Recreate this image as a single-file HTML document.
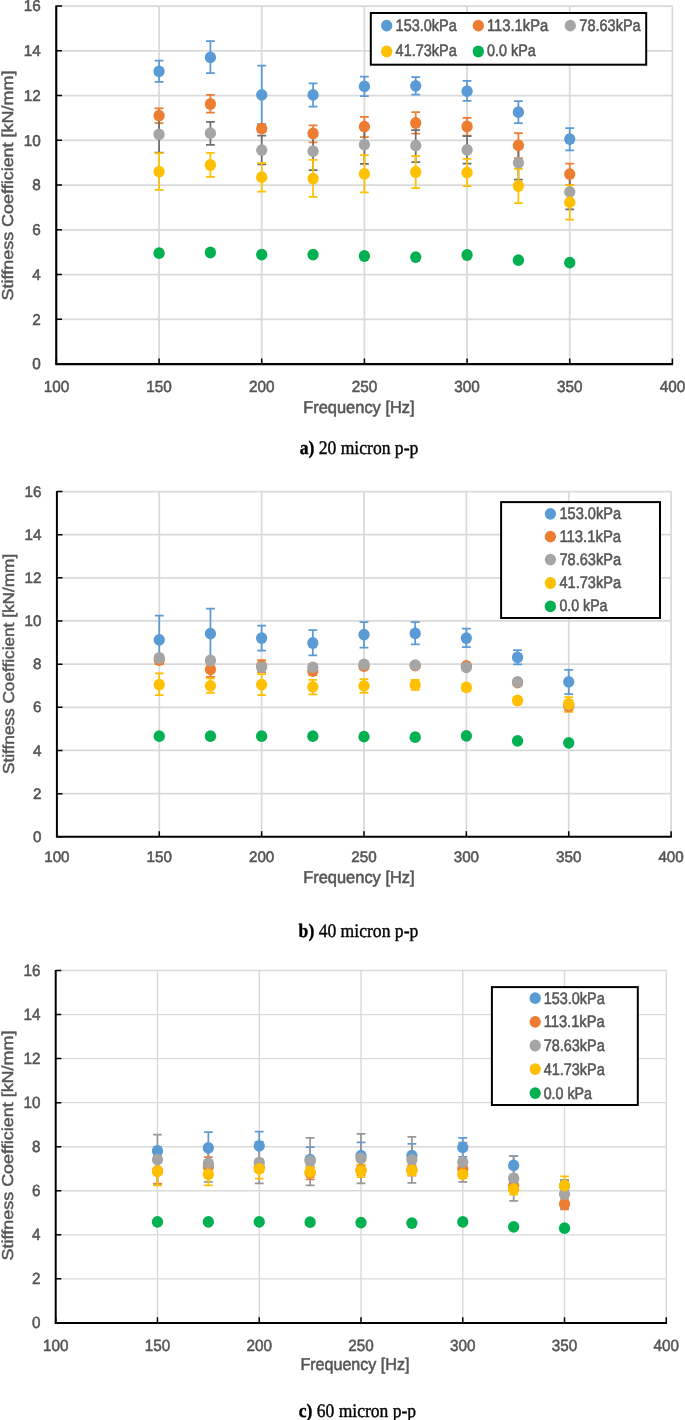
<!DOCTYPE html>
<html lang="en"><head><meta charset="utf-8"><title>Stiffness coefficient vs frequency</title>
<style>html,body{margin:0;padding:0;background:#fff}svg{display:block;will-change:transform;opacity:.999}text{text-rendering:geometricPrecision;font-family:"Liberation Sans",sans-serif;fill:#555555;stroke:#555555;stroke-width:.55px}.s{font-family:"Liberation Serif",serif;fill:#000;stroke:#000;stroke-width:.4px}</style></head><body>
<svg width="685" height="1420" viewBox="0 0 685 1420">
<rect width="685" height="1420" fill="#fff"/>
<g opacity=".999"><line x1="56.4" y1="319.35" x2="672.4" y2="319.35" stroke="#D9D9D9" stroke-width="1.75"/>
<line x1="56.4" y1="274.6" x2="672.4" y2="274.6" stroke="#D9D9D9" stroke-width="1.75"/>
<line x1="56.4" y1="229.85" x2="672.4" y2="229.85" stroke="#D9D9D9" stroke-width="1.75"/>
<line x1="56.4" y1="185.1" x2="672.4" y2="185.1" stroke="#D9D9D9" stroke-width="1.75"/>
<line x1="56.4" y1="140.35" x2="672.4" y2="140.35" stroke="#D9D9D9" stroke-width="1.75"/>
<line x1="56.4" y1="95.6" x2="672.4" y2="95.6" stroke="#D9D9D9" stroke-width="1.75"/>
<line x1="56.4" y1="50.85" x2="672.4" y2="50.85" stroke="#D9D9D9" stroke-width="1.75"/>
<line x1="56.4" y1="6.1" x2="672.4" y2="6.1" stroke="#D9D9D9" stroke-width="1.75"/>
<line x1="159.07" y1="6.1" x2="159.07" y2="364.1" stroke="#D9D9D9" stroke-width="1.75"/>
<line x1="261.73" y1="6.1" x2="261.73" y2="364.1" stroke="#D9D9D9" stroke-width="1.75"/>
<line x1="364.4" y1="6.1" x2="364.4" y2="364.1" stroke="#D9D9D9" stroke-width="1.75"/>
<line x1="467.07" y1="6.1" x2="467.07" y2="364.1" stroke="#D9D9D9" stroke-width="1.75"/>
<line x1="569.73" y1="6.1" x2="569.73" y2="364.1" stroke="#D9D9D9" stroke-width="1.75"/>
<line x1="672.4" y1="6.1" x2="672.4" y2="364.1" stroke="#D9D9D9" stroke-width="1.75"/>
<path d="M56.25 5.5V364.1H673.1" fill="none" stroke="#000" stroke-width="2.15"/>
<path d="M56.4 364.1h5.6M56.4 319.35h5.6M56.4 274.6h5.6M56.4 229.85h5.6M56.4 185.1h5.6M56.4 140.35h5.6M56.4 95.6h5.6M56.4 50.85h5.6M56.4 6.1h5.6M56.4 364.1v-5.6M159.07 364.1v-5.6M261.73 364.1v-5.6M364.4 364.1v-5.6M467.07 364.1v-5.6M569.73 364.1v-5.6M672.4 364.1v-5.6" fill="none" stroke="#000" stroke-width="1.5"/>
<text transform="translate(40.8 369.45) scale(0.98 1)" font-size="15.6" text-anchor="end">0</text>
<text transform="translate(40.8 324.7) scale(0.98 1)" font-size="15.6" text-anchor="end">2</text>
<text transform="translate(40.8 279.95) scale(0.98 1)" font-size="15.6" text-anchor="end">4</text>
<text transform="translate(40.8 235.2) scale(0.98 1)" font-size="15.6" text-anchor="end">6</text>
<text transform="translate(40.8 190.45) scale(0.98 1)" font-size="15.6" text-anchor="end">8</text>
<text transform="translate(40.8 145.7) scale(0.98 1)" font-size="15.6" text-anchor="end">10</text>
<text transform="translate(40.8 100.95) scale(0.98 1)" font-size="15.6" text-anchor="end">12</text>
<text transform="translate(40.8 56.2) scale(0.98 1)" font-size="15.6" text-anchor="end">14</text>
<text transform="translate(40.8 11.45) scale(0.98 1)" font-size="15.6" text-anchor="end">16</text>
<text transform="translate(56.4 392) scale(0.95 1)" font-size="16.1" text-anchor="middle">100</text>
<text transform="translate(159.07 392) scale(0.95 1)" font-size="16.1" text-anchor="middle">150</text>
<text transform="translate(261.73 392) scale(0.95 1)" font-size="16.1" text-anchor="middle">200</text>
<text transform="translate(364.4 392) scale(0.95 1)" font-size="16.1" text-anchor="middle">250</text>
<text transform="translate(467.07 392) scale(0.95 1)" font-size="16.1" text-anchor="middle">300</text>
<text transform="translate(569.73 392) scale(0.95 1)" font-size="16.1" text-anchor="middle">350</text>
<text transform="translate(672.4 392) scale(0.95 1)" font-size="16.1" text-anchor="middle">400</text>
<text x="303.2" y="413.2" font-size="17.0" textLength="111.4" lengthAdjust="spacingAndGlyphs">Frequency [Hz]</text>
<text style="stroke-width:.45px" transform="translate(13 300.4) rotate(-90)" font-size="15.8" textLength="229.8" lengthAdjust="spacingAndGlyphs">Stiffness Coefficient [kN/mm]</text>
<text class="s" x="299.7" y="454.1" font-size="19.2" textLength="118.6" lengthAdjust="spacingAndGlyphs" xml:space="preserve"><tspan font-weight="bold">a)</tspan> 20 micron p-p</text>
<path d="M159.07 60.6V81.9M154.67 60.6h8.8M154.67 81.9h8.8M210.4 41V73.2M206 41h8.8M206 73.2h8.8M261.73 65.7V124.1M257.33 65.7h8.8M257.33 124.1h8.8M313.07 83.3V106.6M308.67 83.3h8.8M308.67 106.6h8.8M364.4 76.7V96.1M360 76.7h8.8M360 96.1h8.8M415.73 77V94.7M411.33 77h8.8M411.33 94.7h8.8M467.07 80.9V100.8M462.67 80.9h8.8M462.67 100.8h8.8M518.4 101.2V123.2M514 101.2h8.8M514 123.2h8.8M569.73 128.1V150.3M565.33 128.1h8.8M565.33 150.3h8.8" fill="none" stroke="#5B9BD5" stroke-width="1.75"/>
<path d="M159.07 108.3V123M154.67 108.3h8.8M154.67 123h8.8M210.4 94.9V112.7M206 94.9h8.8M206 112.7h8.8M261.73 125V132M257.33 125h8.8M257.33 132h8.8M313.07 125.3V142.4M308.67 125.3h8.8M308.67 142.4h8.8M364.4 116.9V137M360 116.9h8.8M360 137h8.8M415.73 112V133.5M411.33 112h8.8M411.33 133.5h8.8M467.07 117.8V135.6M462.67 117.8h8.8M462.67 135.6h8.8M518.4 133V158M514 133h8.8M514 158h8.8M569.73 163.6V185.1M565.33 163.6h8.8M565.33 185.1h8.8" fill="none" stroke="#ED7D31" stroke-width="1.75"/>
<path d="M159.07 116.2V152.6M154.67 116.2h8.8M154.67 152.6h8.8M210.4 121.8V144.9M206 121.8h8.8M206 144.9h8.8M261.73 135.6V164.3M257.33 135.6h8.8M257.33 164.3h8.8M313.07 132.2V170.2M308.67 132.2h8.8M308.67 170.2h8.8M364.4 125.6V163.8M360 125.6h8.8M360 163.8h8.8M415.73 130V162.2M411.33 130h8.8M411.33 162.2h8.8M467.07 136V163.6M462.67 136h8.8M462.67 163.6h8.8M518.4 146.1V179.7M514 146.1h8.8M514 179.7h8.8M569.73 174.4V209.4M565.33 174.4h8.8M565.33 209.4h8.8" fill="none" stroke="#6e6e6e" stroke-width="1.75"/>
<path d="M159.07 153.1V189.8M154.67 153.1h8.8M154.67 189.8h8.8M210.4 152.9V176.9M206 152.9h8.8M206 176.9h8.8M261.73 163.1V191.6M257.33 163.1h8.8M257.33 191.6h8.8M313.07 159.9V196.8M308.67 159.9h8.8M308.67 196.8h8.8M364.4 155.2V192.3M360 155.2h8.8M360 192.3h8.8M415.73 156.1V188.1M411.33 156.1h8.8M411.33 188.1h8.8M467.07 158.9V186M462.67 158.9h8.8M462.67 186h8.8M518.4 168.8V203.1M514 168.8h8.8M514 203.1h8.8M569.73 185.1V219.7M565.33 185.1h8.8M565.33 219.7h8.8" fill="none" stroke="#FFC000" stroke-width="1.75"/>
<g fill="#5B9BD5"><ellipse cx="159.07" cy="71.3" rx="5.65" ry="5.9"/><ellipse cx="210.4" cy="57.3" rx="5.65" ry="5.9"/><ellipse cx="261.73" cy="94.9" rx="5.65" ry="5.9"/><ellipse cx="313.07" cy="94.9" rx="5.65" ry="5.9"/><ellipse cx="364.4" cy="86.3" rx="5.65" ry="5.9"/><ellipse cx="415.73" cy="85.8" rx="5.65" ry="5.9"/><ellipse cx="467.07" cy="91.2" rx="5.65" ry="5.9"/><ellipse cx="518.4" cy="112.2" rx="5.65" ry="5.9"/><ellipse cx="569.73" cy="139.1" rx="5.65" ry="5.9"/></g>
<g fill="#ED7D31"><ellipse cx="159.07" cy="115.7" rx="5.65" ry="5.9"/><ellipse cx="210.4" cy="104" rx="5.65" ry="5.9"/><ellipse cx="261.73" cy="128.6" rx="5.65" ry="5.9"/><ellipse cx="313.07" cy="133.5" rx="5.65" ry="5.9"/><ellipse cx="364.4" cy="126.7" rx="5.65" ry="5.9"/><ellipse cx="415.73" cy="123" rx="5.65" ry="5.9"/><ellipse cx="467.07" cy="126.5" rx="5.65" ry="5.9"/><ellipse cx="518.4" cy="145.4" rx="5.65" ry="5.9"/><ellipse cx="569.73" cy="174.1" rx="5.65" ry="5.9"/></g>
<g fill="#A5A5A5"><ellipse cx="159.07" cy="134.4" rx="5.65" ry="5.9"/><ellipse cx="210.4" cy="133.2" rx="5.65" ry="5.9"/><ellipse cx="261.73" cy="150.1" rx="5.65" ry="5.9"/><ellipse cx="313.07" cy="151.2" rx="5.65" ry="5.9"/><ellipse cx="364.4" cy="144.7" rx="5.65" ry="5.9"/><ellipse cx="415.73" cy="145.6" rx="5.65" ry="5.9"/><ellipse cx="467.07" cy="149.8" rx="5.65" ry="5.9"/><ellipse cx="518.4" cy="162.9" rx="5.65" ry="5.9"/><ellipse cx="569.73" cy="191.9" rx="5.65" ry="5.9"/></g>
<g fill="#FFC000"><ellipse cx="159.07" cy="171.6" rx="5.65" ry="5.9"/><ellipse cx="210.4" cy="165" rx="5.65" ry="5.9"/><ellipse cx="261.73" cy="177.2" rx="5.65" ry="5.9"/><ellipse cx="313.07" cy="178.6" rx="5.65" ry="5.9"/><ellipse cx="364.4" cy="173.9" rx="5.65" ry="5.9"/><ellipse cx="415.73" cy="172" rx="5.65" ry="5.9"/><ellipse cx="467.07" cy="172.7" rx="5.65" ry="5.9"/><ellipse cx="518.4" cy="186" rx="5.65" ry="5.9"/><ellipse cx="569.73" cy="202.2" rx="5.65" ry="5.9"/></g>
<g fill="#00B050"><ellipse cx="159.07" cy="253.2" rx="5.65" ry="5.9"/><ellipse cx="210.4" cy="252.5" rx="5.65" ry="5.9"/><ellipse cx="261.73" cy="254.6" rx="5.65" ry="5.9"/><ellipse cx="313.07" cy="254.6" rx="5.65" ry="5.9"/><ellipse cx="364.4" cy="256" rx="5.65" ry="5.9"/><ellipse cx="415.73" cy="257.1" rx="5.65" ry="5.9"/><ellipse cx="467.07" cy="255" rx="5.65" ry="5.9"/><ellipse cx="518.4" cy="260.2" rx="5.65" ry="5.9"/><ellipse cx="569.73" cy="262.7" rx="5.65" ry="5.9"/></g>
<rect x="370.8" y="13" width="275.4" height="51.7" fill="#fff" stroke="#000" stroke-width="2"/>
<ellipse cx="386.7" cy="25.6" rx="5.65" ry="5.9" fill="#5B9BD5"/>
<text x="395.6" y="30.5" font-size="16.6" textLength="61.2" lengthAdjust="spacingAndGlyphs">153.0kPa</text>
<ellipse cx="478.3" cy="25.6" rx="5.65" ry="5.9" fill="#ED7D31"/>
<text x="487" y="30.5" font-size="16.6" textLength="61.2" lengthAdjust="spacingAndGlyphs">113.1kPa</text>
<ellipse cx="570.3" cy="25.6" rx="5.65" ry="5.9" fill="#A5A5A5"/>
<text x="579.3" y="30.5" font-size="16.6" textLength="61.4" lengthAdjust="spacingAndGlyphs">78.63kPa</text>
<ellipse cx="386.7" cy="51.5" rx="5.65" ry="5.9" fill="#FFC000"/>
<text x="395.6" y="56.4" font-size="16.6" textLength="61.2" lengthAdjust="spacingAndGlyphs">41.73kPa</text>
<ellipse cx="478.3" cy="51.5" rx="5.65" ry="5.9" fill="#00B050"/>
<text x="487" y="56.4" font-size="16.6" textLength="48.8" lengthAdjust="spacingAndGlyphs">0.0 kPa</text></g>
<g opacity=".999"><line x1="56.9" y1="793.64" x2="671.1" y2="793.64" stroke="#D9D9D9" stroke-width="1.75"/>
<line x1="56.9" y1="750.47" x2="671.1" y2="750.47" stroke="#D9D9D9" stroke-width="1.75"/>
<line x1="56.9" y1="707.31" x2="671.1" y2="707.31" stroke="#D9D9D9" stroke-width="1.75"/>
<line x1="56.9" y1="664.15" x2="671.1" y2="664.15" stroke="#D9D9D9" stroke-width="1.75"/>
<line x1="56.9" y1="620.99" x2="671.1" y2="620.99" stroke="#D9D9D9" stroke-width="1.75"/>
<line x1="56.9" y1="577.83" x2="671.1" y2="577.83" stroke="#D9D9D9" stroke-width="1.75"/>
<line x1="56.9" y1="534.66" x2="671.1" y2="534.66" stroke="#D9D9D9" stroke-width="1.75"/>
<line x1="56.9" y1="491.5" x2="671.1" y2="491.5" stroke="#D9D9D9" stroke-width="1.75"/>
<line x1="159.27" y1="491.5" x2="159.27" y2="836.8" stroke="#D9D9D9" stroke-width="1.75"/>
<line x1="261.63" y1="491.5" x2="261.63" y2="836.8" stroke="#D9D9D9" stroke-width="1.75"/>
<line x1="364" y1="491.5" x2="364" y2="836.8" stroke="#D9D9D9" stroke-width="1.75"/>
<line x1="466.37" y1="491.5" x2="466.37" y2="836.8" stroke="#D9D9D9" stroke-width="1.75"/>
<line x1="568.73" y1="491.5" x2="568.73" y2="836.8" stroke="#D9D9D9" stroke-width="1.75"/>
<line x1="671.1" y1="491.5" x2="671.1" y2="836.8" stroke="#D9D9D9" stroke-width="1.75"/>
<path d="M56.9 490.9V836.8H671.8" fill="none" stroke="#000" stroke-width="2.0"/>
<path d="M56.9 836.8h5.6M56.9 793.64h5.6M56.9 750.47h5.6M56.9 707.31h5.6M56.9 664.15h5.6M56.9 620.99h5.6M56.9 577.83h5.6M56.9 534.66h5.6M56.9 491.5h5.6M56.9 836.8v-5.6M159.27 836.8v-5.6M261.63 836.8v-5.6M364 836.8v-5.6M466.37 836.8v-5.6M568.73 836.8v-5.6M671.1 836.8v-5.6" fill="none" stroke="#000" stroke-width="1.5"/>
<text transform="translate(41.4 841.9) scale(1 1)" font-size="15.2" text-anchor="end">0</text>
<text transform="translate(41.4 798.74) scale(1 1)" font-size="15.2" text-anchor="end">2</text>
<text transform="translate(41.4 755.58) scale(1 1)" font-size="15.2" text-anchor="end">4</text>
<text transform="translate(41.4 712.42) scale(1 1)" font-size="15.2" text-anchor="end">6</text>
<text transform="translate(41.4 669.25) scale(1 1)" font-size="15.2" text-anchor="end">8</text>
<text transform="translate(41.4 626.09) scale(1 1)" font-size="15.2" text-anchor="end">10</text>
<text transform="translate(41.4 582.93) scale(1 1)" font-size="15.2" text-anchor="end">12</text>
<text transform="translate(41.4 539.77) scale(1 1)" font-size="15.2" text-anchor="end">14</text>
<text transform="translate(41.4 496.6) scale(1 1)" font-size="15.2" text-anchor="end">16</text>
<text transform="translate(56.9 862.4) scale(1 1)" font-size="15.2" text-anchor="middle">100</text>
<text transform="translate(159.27 862.4) scale(1 1)" font-size="15.2" text-anchor="middle">150</text>
<text transform="translate(261.63 862.4) scale(1 1)" font-size="15.2" text-anchor="middle">200</text>
<text transform="translate(364 862.4) scale(1 1)" font-size="15.2" text-anchor="middle">250</text>
<text transform="translate(466.37 862.4) scale(1 1)" font-size="15.2" text-anchor="middle">300</text>
<text transform="translate(568.73 862.4) scale(1 1)" font-size="15.2" text-anchor="middle">350</text>
<text transform="translate(671.1 862.4) scale(1 1)" font-size="15.2" text-anchor="middle">400</text>
<text x="303.2" y="882.9" font-size="17.0" textLength="111.4" lengthAdjust="spacingAndGlyphs">Frequency [Hz]</text>
<text style="stroke-width:.45px" transform="translate(13.8 774) rotate(-90)" font-size="15.8" textLength="220.2" lengthAdjust="spacingAndGlyphs">Stiffness Coefficient [kN/mm]</text>
<text class="s" x="298.6" y="936.9" font-size="19.2" textLength="119.7" lengthAdjust="spacingAndGlyphs" xml:space="preserve"><tspan font-weight="bold">b)</tspan> 40 micron p-p</text>
<path d="M159.27 615.7V663.9M154.87 615.7h8.8M154.87 663.9h8.8M210.45 608.7V658.7M206.05 608.7h8.8M206.05 658.7h8.8M261.63 625.7V650.7M257.23 625.7h8.8M257.23 650.7h8.8M312.82 630.2V655.4M308.42 630.2h8.8M308.42 655.4h8.8M364 622V647.5M359.6 622h8.8M359.6 647.5h8.8M415.18 622.2V644.4M410.78 622.2h8.8M410.78 644.4h8.8M466.37 628.5V647.2M461.97 628.5h8.8M461.97 647.2h8.8M517.55 650V664.3M513.15 650h8.8M513.15 664.3h8.8M568.73 669.9V694.2M564.33 669.9h8.8M564.33 694.2h8.8" fill="none" stroke="#5B9BD5" stroke-width="1.75"/>
<path d="M159.27 656V664M154.87 656h8.8M154.87 664h8.8M210.45 661.9V676.9M206.05 661.9h8.8M206.05 676.9h8.8M261.63 660.1V672.2M257.23 660.1h8.8M257.23 672.2h8.8M312.82 667V675M308.42 667h8.8M308.42 675h8.8M364 663V669M359.6 663h8.8M359.6 669h8.8M415.18 663V668M410.78 663h8.8M410.78 668h8.8M466.37 663V669M461.97 663h8.8M461.97 669h8.8M517.55 680V685M513.15 680h8.8M513.15 685h8.8M568.73 700.7V711.5M564.33 700.7h8.8M564.33 711.5h8.8" fill="none" stroke="#ED7D31" stroke-width="1.75"/>
<path d="M159.27 655V661M154.87 655h8.8M154.87 661h8.8M210.45 658V663M206.05 658h8.8M206.05 663h8.8M261.63 664V670M257.23 664h8.8M257.23 670h8.8M312.82 664V670M308.42 664h8.8M308.42 670h8.8M364 662V667M359.6 662h8.8M359.6 667h8.8M415.18 663V668M410.78 663h8.8M410.78 668h8.8M466.37 664V670M461.97 664h8.8M461.97 670h8.8M517.55 680V684M513.15 680h8.8M513.15 684h8.8M568.73 702V707M564.33 702h8.8M564.33 707h8.8" fill="none" stroke="#8a8a8a" stroke-width="1.75"/>
<path d="M159.27 673.4V695.1M154.87 673.4h8.8M154.87 695.1h8.8M210.45 678.3V692.8M206.05 678.3h8.8M206.05 692.8h8.8M261.63 674.1V695.1M257.23 674.1h8.8M257.23 695.1h8.8M312.82 679.9V694.4M308.42 679.9h8.8M308.42 694.4h8.8M364 679.2V692.8M359.6 679.2h8.8M359.6 692.8h8.8M415.18 679.8V689.8M410.78 679.8h8.8M410.78 689.8h8.8M466.37 684V691M461.97 684h8.8M461.97 691h8.8M517.55 697V704M513.15 697h8.8M513.15 704h8.8M568.73 697V711.5M564.33 697h8.8M564.33 711.5h8.8" fill="none" stroke="#FFC000" stroke-width="1.75"/>
<g fill="#5B9BD5"><ellipse cx="159.27" cy="639.8" rx="5.65" ry="5.9"/><ellipse cx="210.45" cy="633.7" rx="5.65" ry="5.9"/><ellipse cx="261.63" cy="638.1" rx="5.65" ry="5.9"/><ellipse cx="312.82" cy="643" rx="5.65" ry="5.9"/><ellipse cx="364" cy="634.6" rx="5.65" ry="5.9"/><ellipse cx="415.18" cy="633.4" rx="5.65" ry="5.9"/><ellipse cx="466.37" cy="638.1" rx="5.65" ry="5.9"/><ellipse cx="517.55" cy="657.3" rx="5.65" ry="5.9"/><ellipse cx="568.73" cy="681.8" rx="5.65" ry="5.9"/></g>
<g fill="#ED7D31"><ellipse cx="159.27" cy="660.1" rx="5.65" ry="5.9"/><ellipse cx="210.45" cy="669.4" rx="5.65" ry="5.9"/><ellipse cx="261.63" cy="665.9" rx="5.65" ry="5.9"/><ellipse cx="312.82" cy="671.1" rx="5.65" ry="5.9"/><ellipse cx="364" cy="666.2" rx="5.65" ry="5.9"/><ellipse cx="415.18" cy="665.6" rx="5.65" ry="5.9"/><ellipse cx="466.37" cy="665.9" rx="5.65" ry="5.9"/><ellipse cx="517.55" cy="682.6" rx="5.65" ry="5.9"/><ellipse cx="568.73" cy="706.1" rx="5.65" ry="5.9"/></g>
<g fill="#A5A5A5"><ellipse cx="159.27" cy="658" rx="5.65" ry="5.9"/><ellipse cx="210.45" cy="660.5" rx="5.65" ry="5.9"/><ellipse cx="261.63" cy="667.1" rx="5.65" ry="5.9"/><ellipse cx="312.82" cy="667.3" rx="5.65" ry="5.9"/><ellipse cx="364" cy="664.3" rx="5.65" ry="5.9"/><ellipse cx="415.18" cy="665.2" rx="5.65" ry="5.9"/><ellipse cx="466.37" cy="667.3" rx="5.65" ry="5.9"/><ellipse cx="517.55" cy="682" rx="5.65" ry="5.9"/><ellipse cx="568.73" cy="704.5" rx="5.65" ry="5.9"/></g>
<g fill="#FFC000"><ellipse cx="159.27" cy="684.6" rx="5.65" ry="5.9"/><ellipse cx="210.45" cy="685.8" rx="5.65" ry="5.9"/><ellipse cx="261.63" cy="684.6" rx="5.65" ry="5.9"/><ellipse cx="312.82" cy="686.9" rx="5.65" ry="5.9"/><ellipse cx="364" cy="685.8" rx="5.65" ry="5.9"/><ellipse cx="415.18" cy="684.8" rx="5.65" ry="5.9"/><ellipse cx="466.37" cy="687.4" rx="5.65" ry="5.9"/><ellipse cx="517.55" cy="700.5" rx="5.65" ry="5.9"/><ellipse cx="568.73" cy="704" rx="5.65" ry="5.9"/></g>
<g fill="#00B050"><ellipse cx="159.27" cy="736.2" rx="5.65" ry="5.9"/><ellipse cx="210.45" cy="736.2" rx="5.65" ry="5.9"/><ellipse cx="261.63" cy="736.2" rx="5.65" ry="5.9"/><ellipse cx="312.82" cy="736.2" rx="5.65" ry="5.9"/><ellipse cx="364" cy="736.7" rx="5.65" ry="5.9"/><ellipse cx="415.18" cy="737.2" rx="5.65" ry="5.9"/><ellipse cx="466.37" cy="735.8" rx="5.65" ry="5.9"/><ellipse cx="517.55" cy="740.9" rx="5.65" ry="5.9"/><ellipse cx="568.73" cy="742.8" rx="5.65" ry="5.9"/></g>
<rect x="501.1" y="502.1" width="158.9" height="115.9" fill="#fff" stroke="#000" stroke-width="2"/>
<ellipse cx="550.4" cy="513.8" rx="5.65" ry="5.9" fill="#5B9BD5"/>
<text x="559.4" y="518.7" font-size="16.6" textLength="61.7" lengthAdjust="spacingAndGlyphs">153.0kPa</text>
<ellipse cx="550.4" cy="536.6" rx="5.65" ry="5.9" fill="#ED7D31"/>
<text x="559.4" y="541.5" font-size="16.6" textLength="61.7" lengthAdjust="spacingAndGlyphs">113.1kPa</text>
<ellipse cx="550.4" cy="559.6" rx="5.65" ry="5.9" fill="#A5A5A5"/>
<text x="559.4" y="564.5" font-size="16.6" textLength="61.7" lengthAdjust="spacingAndGlyphs">78.63kPa</text>
<ellipse cx="550.4" cy="583" rx="5.65" ry="5.9" fill="#FFC000"/>
<text x="559.4" y="587.9" font-size="16.6" textLength="61.7" lengthAdjust="spacingAndGlyphs">41.73kPa</text>
<ellipse cx="550.4" cy="606.4" rx="5.65" ry="5.9" fill="#00B050"/>
<text x="559.4" y="611.3" font-size="16.6" textLength="48.1" lengthAdjust="spacingAndGlyphs">0.0 kPa</text></g>
<g opacity=".999"><line x1="55.7" y1="1278.85" x2="666.3" y2="1278.85" stroke="#D9D9D9" stroke-width="1.35"/>
<line x1="55.7" y1="1234.8" x2="666.3" y2="1234.8" stroke="#D9D9D9" stroke-width="1.35"/>
<line x1="55.7" y1="1190.75" x2="666.3" y2="1190.75" stroke="#D9D9D9" stroke-width="1.35"/>
<line x1="55.7" y1="1146.7" x2="666.3" y2="1146.7" stroke="#D9D9D9" stroke-width="1.35"/>
<line x1="55.7" y1="1102.65" x2="666.3" y2="1102.65" stroke="#D9D9D9" stroke-width="1.35"/>
<line x1="55.7" y1="1058.6" x2="666.3" y2="1058.6" stroke="#D9D9D9" stroke-width="1.35"/>
<line x1="55.7" y1="1014.55" x2="666.3" y2="1014.55" stroke="#D9D9D9" stroke-width="1.35"/>
<line x1="55.7" y1="970.5" x2="666.3" y2="970.5" stroke="#D9D9D9" stroke-width="1.35"/>
<line x1="157.47" y1="970.5" x2="157.47" y2="1322.9" stroke="#D9D9D9" stroke-width="1.35"/>
<line x1="259.23" y1="970.5" x2="259.23" y2="1322.9" stroke="#D9D9D9" stroke-width="1.35"/>
<line x1="361" y1="970.5" x2="361" y2="1322.9" stroke="#D9D9D9" stroke-width="1.35"/>
<line x1="462.77" y1="970.5" x2="462.77" y2="1322.9" stroke="#D9D9D9" stroke-width="1.35"/>
<line x1="564.53" y1="970.5" x2="564.53" y2="1322.9" stroke="#D9D9D9" stroke-width="1.35"/>
<line x1="666.3" y1="970.5" x2="666.3" y2="1322.9" stroke="#D9D9D9" stroke-width="1.35"/>
<path d="M55.7 969.9V1322.9H667" fill="none" stroke="#000" stroke-width="2.0"/>
<path d="M55.7 1322.9h5.6M55.7 1278.85h5.6M55.7 1234.8h5.6M55.7 1190.75h5.6M55.7 1146.7h5.6M55.7 1102.65h5.6M55.7 1058.6h5.6M55.7 1014.55h5.6M55.7 970.5h5.6M55.7 1322.9v-5.6M157.47 1322.9v-5.6M259.23 1322.9v-5.6M361 1322.9v-5.6M462.77 1322.9v-5.6M564.53 1322.9v-5.6M666.3 1322.9v-5.6" fill="none" stroke="#000" stroke-width="1.5"/>
<text transform="translate(40.5 1328.36) scale(0.94 1)" font-size="16.2" text-anchor="end">0</text>
<text transform="translate(40.5 1284.31) scale(0.94 1)" font-size="16.2" text-anchor="end">2</text>
<text transform="translate(40.5 1240.26) scale(0.94 1)" font-size="16.2" text-anchor="end">4</text>
<text transform="translate(40.5 1196.21) scale(0.94 1)" font-size="16.2" text-anchor="end">6</text>
<text transform="translate(40.5 1152.16) scale(0.94 1)" font-size="16.2" text-anchor="end">8</text>
<text transform="translate(40.5 1108.11) scale(0.94 1)" font-size="16.2" text-anchor="end">10</text>
<text transform="translate(40.5 1064.06) scale(0.94 1)" font-size="16.2" text-anchor="end">12</text>
<text transform="translate(40.5 1020.01) scale(0.94 1)" font-size="16.2" text-anchor="end">14</text>
<text transform="translate(40.5 975.96) scale(0.94 1)" font-size="16.2" text-anchor="end">16</text>
<text transform="translate(55.7 1350.9) scale(0.94 1)" font-size="16.2" text-anchor="middle">100</text>
<text transform="translate(157.47 1350.9) scale(0.94 1)" font-size="16.2" text-anchor="middle">150</text>
<text transform="translate(259.23 1350.9) scale(0.94 1)" font-size="16.2" text-anchor="middle">200</text>
<text transform="translate(361 1350.9) scale(0.94 1)" font-size="16.2" text-anchor="middle">250</text>
<text transform="translate(462.77 1350.9) scale(0.94 1)" font-size="16.2" text-anchor="middle">300</text>
<text transform="translate(564.53 1350.9) scale(0.94 1)" font-size="16.2" text-anchor="middle">350</text>
<text transform="translate(666.3 1350.9) scale(0.94 1)" font-size="16.2" text-anchor="middle">400</text>
<text x="300.4" y="1369.7" font-size="17.0" textLength="109" lengthAdjust="spacingAndGlyphs">Frequency [Hz]</text>
<text style="stroke-width:.45px" transform="translate(13 1260.4) rotate(-90)" font-size="15.8" textLength="229.9" lengthAdjust="spacingAndGlyphs">Stiffness Coefficient [kN/mm]</text>
<text class="s" x="298.8" y="1417.3" font-size="19.2" textLength="117.2" lengthAdjust="spacingAndGlyphs" xml:space="preserve"><tspan font-weight="bold">c)</tspan> 60 micron p-p</text>
<path d="M157.47 1147V1155M153.07 1147h8.8M153.07 1155h8.8M208.35 1132.2V1163.6M203.95 1132.2h8.8M203.95 1163.6h8.8M259.23 1131.5V1160.1M254.83 1131.5h8.8M254.83 1160.1h8.8M310.12 1147.2V1172M305.72 1147.2h8.8M305.72 1172h8.8M361 1142.3V1169M356.6 1142.3h8.8M356.6 1169h8.8M411.88 1143.9V1167.3M407.48 1143.9h8.8M407.48 1167.3h8.8M462.77 1137.8V1156.8M458.37 1137.8h8.8M458.37 1156.8h8.8M513.65 1156.2V1174.6M509.25 1156.2h8.8M509.25 1174.6h8.8M564.53 1181V1191M560.13 1181h8.8M560.13 1191h8.8" fill="none" stroke="#5B9BD5" stroke-width="1.75"/>
<path d="M157.47 1158.4V1183.6M153.07 1158.4h8.8M153.07 1183.6h8.8M208.35 1157.2V1176M203.95 1157.2h8.8M203.95 1176h8.8M259.23 1163V1172M254.83 1163h8.8M254.83 1172h8.8M310.12 1166.4V1179.4M305.72 1166.4h8.8M305.72 1179.4h8.8M361 1165V1175M356.6 1165h8.8M356.6 1175h8.8M411.88 1165V1175.5M407.48 1165h8.8M407.48 1175.5h8.8M462.77 1165V1173M458.37 1165h8.8M458.37 1173h8.8M513.65 1182V1190M509.25 1182h8.8M509.25 1190h8.8M564.53 1198.5V1209.3M560.13 1198.5h8.8M560.13 1209.3h8.8" fill="none" stroke="#ED7D31" stroke-width="1.75"/>
<path d="M157.47 1134.6V1184.6M153.07 1134.6h8.8M153.07 1184.6h8.8M208.35 1145.2V1181.8M203.95 1145.2h8.8M203.95 1181.8h8.8M259.23 1141.8V1183.4M254.83 1141.8h8.8M254.83 1183.4h8.8M310.12 1137.8V1185.3M305.72 1137.8h8.8M305.72 1185.3h8.8M361 1133.9V1183.4M356.6 1133.9h8.8M356.6 1183.4h8.8M411.88 1136.9V1182.9M407.48 1136.9h8.8M407.48 1182.9h8.8M462.77 1142.5V1181.8M458.37 1142.5h8.8M458.37 1181.8h8.8M513.65 1156.1V1200.9M509.25 1156.1h8.8M509.25 1200.9h8.8M564.53 1179.9V1208.3M560.13 1179.9h8.8M560.13 1208.3h8.8" fill="none" stroke="#989898" stroke-width="1.75"/>
<path d="M157.47 1157.1V1185.3M153.07 1157.1h8.8M153.07 1185.3h8.8M208.35 1163.3V1185.3M203.95 1163.3h8.8M203.95 1185.3h8.8M259.23 1159.1V1178.7M254.83 1159.1h8.8M254.83 1178.7h8.8M310.12 1167V1177M305.72 1167h8.8M305.72 1177h8.8M361 1164.5V1177.1M356.6 1164.5h8.8M356.6 1177.1h8.8M411.88 1166V1175M407.48 1166h8.8M407.48 1175h8.8M462.77 1170V1178M458.37 1170h8.8M458.37 1178h8.8M513.65 1183.8V1194.6M509.25 1183.8h8.8M509.25 1194.6h8.8M564.53 1176.4V1195M560.13 1176.4h8.8M560.13 1195h8.8" fill="none" stroke="#FFC000" stroke-width="1.75"/>
<g fill="#5B9BD5"><ellipse cx="157.47" cy="1150.9" rx="5.65" ry="5.9"/><ellipse cx="208.35" cy="1147.9" rx="5.65" ry="5.9"/><ellipse cx="259.23" cy="1145.8" rx="5.65" ry="5.9"/><ellipse cx="310.12" cy="1159.6" rx="5.65" ry="5.9"/><ellipse cx="361" cy="1155.6" rx="5.65" ry="5.9"/><ellipse cx="411.88" cy="1155.6" rx="5.65" ry="5.9"/><ellipse cx="462.77" cy="1147.4" rx="5.65" ry="5.9"/><ellipse cx="513.65" cy="1165.4" rx="5.65" ry="5.9"/><ellipse cx="564.53" cy="1186" rx="5.65" ry="5.9"/></g>
<g fill="#ED7D31"><ellipse cx="157.47" cy="1171" rx="5.65" ry="5.9"/><ellipse cx="208.35" cy="1166.6" rx="5.65" ry="5.9"/><ellipse cx="259.23" cy="1167.5" rx="5.65" ry="5.9"/><ellipse cx="310.12" cy="1172.9" rx="5.65" ry="5.9"/><ellipse cx="361" cy="1170.1" rx="5.65" ry="5.9"/><ellipse cx="411.88" cy="1170.1" rx="5.65" ry="5.9"/><ellipse cx="462.77" cy="1168.9" rx="5.65" ry="5.9"/><ellipse cx="513.65" cy="1186" rx="5.65" ry="5.9"/><ellipse cx="564.53" cy="1203.9" rx="5.65" ry="5.9"/></g>
<g fill="#A5A5A5"><ellipse cx="157.47" cy="1159.6" rx="5.65" ry="5.9"/><ellipse cx="208.35" cy="1163.5" rx="5.65" ry="5.9"/><ellipse cx="259.23" cy="1162.6" rx="5.65" ry="5.9"/><ellipse cx="310.12" cy="1161.2" rx="5.65" ry="5.9"/><ellipse cx="361" cy="1158.4" rx="5.65" ry="5.9"/><ellipse cx="411.88" cy="1159.8" rx="5.65" ry="5.9"/><ellipse cx="462.77" cy="1162.1" rx="5.65" ry="5.9"/><ellipse cx="513.65" cy="1178.5" rx="5.65" ry="5.9"/><ellipse cx="564.53" cy="1194.1" rx="5.65" ry="5.9"/></g>
<g fill="#FFC000"><ellipse cx="157.47" cy="1171.2" rx="5.65" ry="5.9"/><ellipse cx="208.35" cy="1174.3" rx="5.65" ry="5.9"/><ellipse cx="259.23" cy="1168.9" rx="5.65" ry="5.9"/><ellipse cx="310.12" cy="1171.9" rx="5.65" ry="5.9"/><ellipse cx="361" cy="1170.8" rx="5.65" ry="5.9"/><ellipse cx="411.88" cy="1170.5" rx="5.65" ry="5.9"/><ellipse cx="462.77" cy="1174.3" rx="5.65" ry="5.9"/><ellipse cx="513.65" cy="1189.2" rx="5.65" ry="5.9"/><ellipse cx="564.53" cy="1185.7" rx="5.65" ry="5.9"/></g>
<g fill="#00B050"><ellipse cx="157.47" cy="1221.9" rx="5.65" ry="5.9"/><ellipse cx="208.35" cy="1221.9" rx="5.65" ry="5.9"/><ellipse cx="259.23" cy="1221.9" rx="5.65" ry="5.9"/><ellipse cx="310.12" cy="1222.2" rx="5.65" ry="5.9"/><ellipse cx="361" cy="1222.6" rx="5.65" ry="5.9"/><ellipse cx="411.88" cy="1223.1" rx="5.65" ry="5.9"/><ellipse cx="462.77" cy="1221.9" rx="5.65" ry="5.9"/><ellipse cx="513.65" cy="1226.8" rx="5.65" ry="5.9"/><ellipse cx="564.53" cy="1228.2" rx="5.65" ry="5.9"/></g>
<rect x="491.9" y="987.1" width="145.9" height="117.9" fill="#fff" stroke="#000" stroke-width="2"/>
<ellipse cx="535.2" cy="998.2" rx="5.65" ry="5.9" fill="#5B9BD5"/>
<text x="543.7" y="1003.6" font-size="16.6" textLength="61" lengthAdjust="spacingAndGlyphs">153.0kPa</text>
<ellipse cx="535.2" cy="1021.8" rx="5.65" ry="5.9" fill="#ED7D31"/>
<text x="543.7" y="1027.2" font-size="16.6" textLength="61" lengthAdjust="spacingAndGlyphs">113.1kPa</text>
<ellipse cx="535.2" cy="1045.5" rx="5.65" ry="5.9" fill="#A5A5A5"/>
<text x="543.7" y="1050.9" font-size="16.6" textLength="61" lengthAdjust="spacingAndGlyphs">78.63kPa</text>
<ellipse cx="535.2" cy="1069.1" rx="5.65" ry="5.9" fill="#FFC000"/>
<text x="543.7" y="1074.5" font-size="16.6" textLength="61" lengthAdjust="spacingAndGlyphs">41.73kPa</text>
<ellipse cx="535.2" cy="1093.1" rx="5.65" ry="5.9" fill="#00B050"/>
<text x="543.7" y="1098.5" font-size="16.6" textLength="48.3" lengthAdjust="spacingAndGlyphs">0.0 kPa</text></g>
</svg></body></html>
